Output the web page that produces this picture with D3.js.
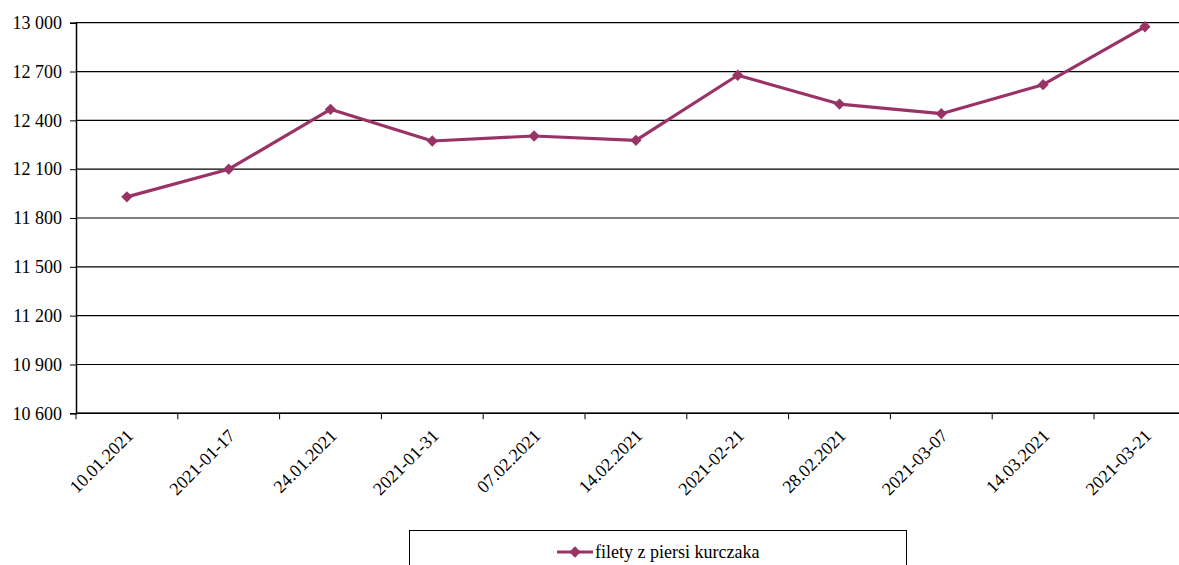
<!DOCTYPE html>
<html><head><meta charset="utf-8">
<script src="https://cdn.jsdelivr.net/npm/d3@7"></script>
<style>
body{margin:0;background:#fff;}
svg{display:block;}
svg text{font-family:"Liberation Serif","Times New Roman","DejaVu Serif",serif !important;}
</style></head><body>
<svg id="c" width="1179" height="565"></svg>
<script>
const categories = ["10.01.2021","2021-01-17","24.01.2021","2021-01-31","07.02.2021","14.02.2021","2021-02-21","28.02.2021","2021-03-07","14.03.2021","2021-03-21"];
const values = [11930, 12100, 12468, 12273, 12304, 12277, 12677, 12500, 12441, 12619, 12975];
const yTicks = [10600, 10900, 11200, 11500, 11800, 12100, 12400, 12700, 13000];
const seriesName = "filety z piersi kurczaka";
const color = "#993366";
const FONT = "'Liberation Serif', 'Times New Roman', 'DejaVu Serif', serif";

const svg = d3.select("#c");
const mLeft = 76, mTop = 22.7, mBottom = 413.3, mRight = 76 + 101.8*11;
const x = d3.scaleBand().domain(categories).range([mLeft, mRight]);
const y = d3.scaleLinear().domain([10600, 13000]).range([mBottom, mTop]);
const fmt = v => d3.format(",")(v).replace(/,/g, " ");

// gridlines
svg.append("g").selectAll("line").data(yTicks).join("line")
  .attr("x1", mLeft).attr("x2", 1179)
  .attr("y1", d => y(d)).attr("y2", d => y(d))
  .attr("stroke", "#000").attr("stroke-width", 1.2);

// y axis
const ya = svg.append("g").attr("transform", `translate(${mLeft},0)`)
  .call(d3.axisLeft(y).tickValues(yTicks).tickSize(6).tickPadding(4).tickFormat(fmt));
ya.attr("font-family", FONT);
ya.select(".domain").attr("stroke", "#000").attr("stroke-width", 1.5);
ya.selectAll(".tick line").attr("stroke", "#000");
ya.selectAll(".tick text").attr("font-size", 18).attr("fill", "#000")
  .attr("font-family", FONT).attr("x", -14);

// x axis
const xa = svg.append("g").attr("transform", `translate(0,${mBottom})`).attr("font-family", FONT);
xa.append("line").attr("x1", mLeft).attr("x2", 1179).attr("y1", 0).attr("y2", 0)
  .attr("stroke", "#000").attr("stroke-width", 1.5);
const tickPos = categories.map(c => x(c)).concat([x(categories[categories.length-1]) + x.bandwidth()]);
xa.selectAll("line.t").data(tickPos.filter(p => p <= 1179)).join("line").attr("class","t")
  .attr("x1", d => d).attr("x2", d => d).attr("y1", 0).attr("y2", 6)
  .attr("stroke", "#000").attr("stroke-width", 1);
xa.selectAll("text").data(categories).join("text")
  .attr("transform", d => `translate(${x(d) + x.bandwidth()/2 + 3},${19}) rotate(-45)`)
  .attr("text-anchor", "end").attr("dy", "0.35em").attr("font-family", FONT)
  .attr("font-size", 18).attr("fill", "#000").text(d => d);

// line
const cx = (d, i) => x(categories[i]) + x.bandwidth()/2;
const line = d3.line().x((d, i) => cx(d, i)).y(d => y(d));
svg.append("path").datum(values).attr("d", line)
  .attr("fill", "none").attr("stroke", color).attr("stroke-width", 3.2)
  .attr("stroke-linejoin", "round");
const diamond = d3.symbol().type(d3.symbolSquare).size(64);
svg.append("g").selectAll("path").data(values).join("path")
  .attr("d", diamond())
  .attr("transform", (d, i) => `translate(${cx(d, i)},${y(d)}) rotate(45)`)
  .attr("fill", color);

// legend
const lg = svg.append("g");
lg.append("rect").attr("x", 409.5).attr("y", 530.5).attr("width", 497).attr("height", 60)
  .attr("fill", "#fff").attr("stroke", "#000").attr("stroke-width", 1);
lg.append("line").attr("x1", 557).attr("x2", 593).attr("y1", 552).attr("y2", 552)
  .attr("stroke", color).attr("stroke-width", 3.2);
lg.append("path").attr("d", diamond()).attr("transform", "translate(575,552) rotate(45)").attr("fill", color);
lg.append("text").attr("x", 595).attr("y", 552).attr("dy", "0.35em").attr("font-family", FONT)
  .attr("font-size", 18).attr("fill", "#000").text(seriesName);
</script>
</body></html>
